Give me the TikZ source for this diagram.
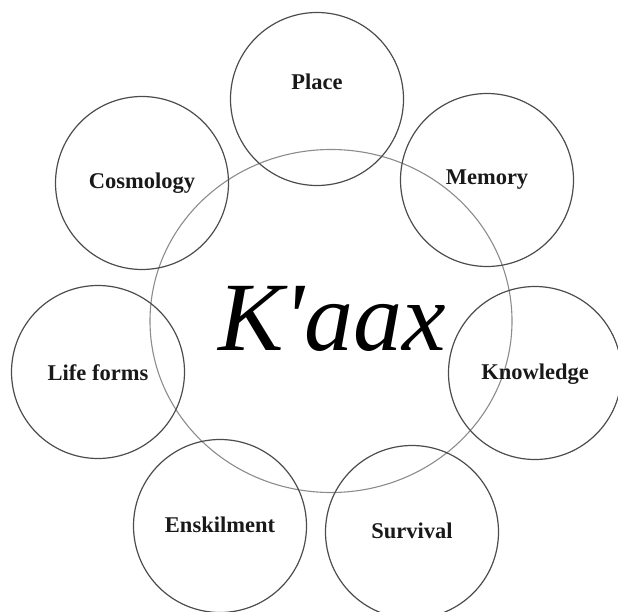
\documentclass[tikz,border=0pt]{standalone}
\usepackage{fontspec}
\usetikzlibrary{shapes.geometric}
\setmainfont{Liberation Serif}
\newfontfamily\kaaxfont{Liberation Serif}
\begin{document}
\begin{tikzpicture}[x=1bp,y=-1bp,
  outer/.style={circle,draw=black!70,line width=1.2bp,minimum size=173bp,inner sep=0pt},
  lbl/.style={font=\fontsize{22.5bp}{27bp}\selectfont\bfseries,text=black!90,inner sep=0pt},
  core/.style={ellipse,draw=black!45,line width=1.1bp,minimum width=362bp,minimum height=343bp,inner sep=0pt}]
\useasboundingbox (0,0) rectangle (618,612);
\node[core] (core) at (331,321) {};
\node[outer] (place) at (317,99) {};
\node[outer] (memory) at (487,180) {};
\node[outer] (knowledge) at (535,373) {};
\node[outer] (survival) at (412,532) {};
\node[outer] (enskilment) at (220,526) {};
\node[outer] (lifeforms) at (98,372) {};
\node[outer] (cosmology) at (142,183) {};
\node[lbl] (tplace) at (317,82) {Place};
\node[lbl] (tmemory) at (487,180) {Memory};
\node[lbl] (tknowledge) at (535,374) {Knowledge};
\node[lbl] (tsurvival) at (412,531) {Survival};
\node[lbl] (tenskilment) at (220,525) {Enskilment};
\node[lbl] (tlifeforms) at (98,373) {Life forms};
\node[lbl] (tcosmology) at (142,183) {Cosmology};
\node[font=\kaaxfont\fontsize{98bp}{110bp}\selectfont\itshape,inner sep=0pt,anchor=base] (kaax) at (332,350) {K'aax};
\end{tikzpicture}
\end{document}
